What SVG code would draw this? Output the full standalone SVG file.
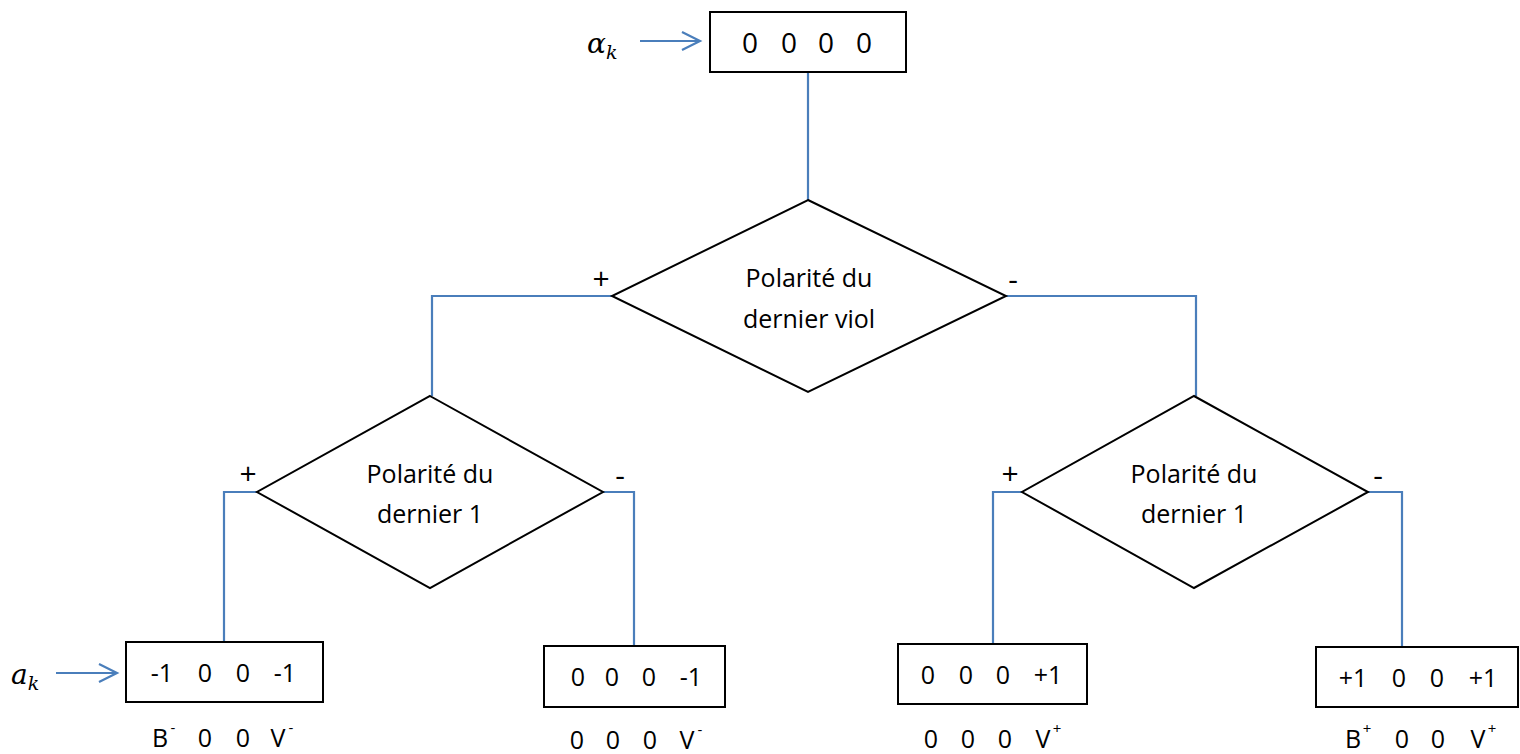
<svg xmlns="http://www.w3.org/2000/svg" width="1520" height="754" viewBox="0 0 1520 754">
<style>
.shape{fill:#fff;stroke:#000;stroke-width:2}
.conn{fill:none;stroke:#4A7EBB;stroke-width:2.2}
.t{font-family:"Open Sans","Liberation Sans",sans-serif;font-size:25px;fill:#000;text-anchor:middle}
.big{font-size:28px}
.pm{font-size:30px}
.sup{font-size:15px}
.m{font-family:"DejaVu Serif","Liberation Serif",serif;font-style:italic;fill:#000}
</style>
<rect width="1520" height="754" fill="#fff"/>
<g id="connectors">
<line class="conn" x1="808" y1="72" x2="808" y2="200"/>
<polyline class="conn" points="612,296 432,296 432,396"/>
<polyline class="conn" points="1006,296 1196,296 1196,396"/>
<polyline class="conn" points="257,492 224,492 224,642"/>
<polyline class="conn" points="603,492 634,492 634,646"/>
<polyline class="conn" points="1022,492 993,492 993,644"/>
<polyline class="conn" points="1368,492 1402,492 1402,647"/>
<line class="conn" x1="640" y1="41" x2="699" y2="41"/>
<polyline class="conn" points="682,32 700,41 682,50"/>
<line class="conn" x1="56" y1="673" x2="116" y2="673"/>
<polyline class="conn" points="99,664 117,673 99,682"/>
</g>
<g id="input-top">
<text class="m" x="587" y="53" font-size="28">α<tspan font-size="19" dy="6">k</tspan></text>
</g>
<g id="input-bottom">
<text class="m" x="11" y="684" font-size="28">a<tspan font-size="19" dy="6">k</tspan></text>
</g>
<g id="box-top">
<rect class="shape" x="710" y="12" width="196" height="60"/>
<text class="t big" y="53"><tspan x="750">0</tspan><tspan x="789">0</tspan><tspan x="826">0</tspan><tspan x="864">0</tspan></text>
</g>
<g id="diamond-main">
<polygon class="shape" points="808,200 1006,296 808,392 612,296"/>
<text class="t" x="809" y="287">Polarité du</text>
<text class="t" x="809" y="328">dernier viol</text>
<text class="t pm" x="601" y="289">+</text>
<text class="t pm" x="1013" y="290">-</text>
</g>
<g id="diamond-left">
<polygon class="shape" points="430,396 603,492 430,588 257,492"/>
<text class="t" x="430" y="483">Polarité du</text>
<text class="t" x="430" y="523">dernier 1</text>
<text class="t pm" x="248" y="484">+</text>
<text class="t pm" x="620" y="486">-</text>
</g>
<g id="diamond-right">
<polygon class="shape" points="1194,396 1368,492 1194,588 1022,492"/>
<text class="t" x="1194" y="483">Polarité du</text>
<text class="t" x="1194" y="523">dernier 1</text>
<text class="t pm" x="1010" y="484">+</text>
<text class="t pm" x="1378" y="486">-</text>
</g>
<g id="box-1">
<rect class="shape" x="126" y="642" width="197" height="60"/>
<text class="t" y="682"><tspan x="162">-1</tspan><tspan x="205">0</tspan><tspan x="243">0</tspan><tspan x="285">-1</tspan></text>
<text class="t" y="747"><tspan x="160">B</tspan><tspan class="sup" x="173" dy="-14">-</tspan><tspan x="205" dy="14">0</tspan><tspan x="243">0</tspan><tspan x="278">V</tspan><tspan class="sup" x="291" dy="-14">-</tspan></text>
</g>
<g id="box-2">
<rect class="shape" x="544" y="646" width="181" height="61"/>
<text class="t" y="686"><tspan x="578">0</tspan><tspan x="612">0</tspan><tspan x="649">0</tspan><tspan x="691">-1</tspan></text>
<text class="t" y="749"><tspan x="577">0</tspan><tspan x="613">0</tspan><tspan x="650">0</tspan><tspan x="687">V</tspan><tspan class="sup" x="700" dy="-14">-</tspan></text>
</g>
<g id="box-3">
<rect class="shape" x="898" y="644" width="189" height="60"/>
<text class="t" y="684"><tspan x="928">0</tspan><tspan x="966">0</tspan><tspan x="1003">0</tspan><tspan x="1048">+1</tspan></text>
<text class="t" y="748"><tspan x="931">0</tspan><tspan x="968">0</tspan><tspan x="1005">0</tspan><tspan x="1043">V</tspan><tspan class="sup" x="1057" dy="-14">+</tspan></text>
</g>
<g id="box-4">
<rect class="shape" x="1316" y="647" width="202" height="60"/>
<text class="t" y="687"><tspan x="1353">+1</tspan><tspan x="1399">0</tspan><tspan x="1437">0</tspan><tspan x="1483">+1</tspan></text>
<text class="t" y="748"><tspan x="1353">B</tspan><tspan class="sup" x="1367" dy="-14">+</tspan><tspan x="1402" dy="14">0</tspan><tspan x="1438">0</tspan><tspan x="1478">V</tspan><tspan class="sup" x="1492" dy="-14">+</tspan></text>
</g>
</svg>
